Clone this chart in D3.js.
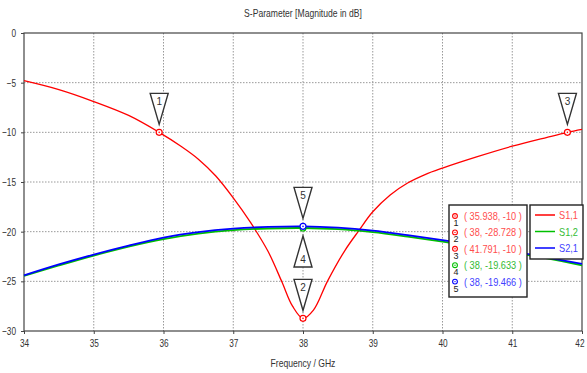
<!DOCTYPE html>
<html>
<head>
<meta charset="utf-8">
<script src="https://cdn.jsdelivr.net/npm/d3@7"></script>
<style>
  body { margin: 0; background: #fff; }
  svg text { font-family: "Liberation Sans", Arial, sans-serif; }
</style>
</head>
<body>
<svg id="chart" width="587" height="373"></svg>
<script>
// S1,1 (red) – reflection
const s11Freq = [34.0, 34.5, 35.0, 35.5, 35.938, 36.25, 36.5, 36.75, 37.0, 37.25, 37.5, 37.7, 37.85, 38.0,
                 38.15, 38.35, 38.6, 38.8, 39.0, 39.25, 39.5, 39.75, 40.0, 40.5, 41.0, 41.5, 41.791, 42.0];
const s11Val  = [-4.8, -5.7, -6.9, -8.3, -10.0, -11.4, -12.7, -14.4, -16.6, -19.1, -22.0, -25.1, -27.5, -28.728,
                 -27.9, -25.0, -21.9, -19.9, -18.0, -16.3, -15.1, -14.25, -13.6, -12.45, -11.4, -10.5, -10.0, -9.7];
// S1,2 (green) and S2,1 (blue) – transmission
const s21Freq = [34.0, 34.5, 35.0, 35.5, 36.0, 36.5, 37.0, 37.5, 38.0, 38.5, 39.0, 39.5, 40.0, 40.5, 41.0, 41.5, 42.0];
const s12Val  = [-24.45, -23.4, -22.4, -21.5, -20.75, -20.2, -19.85, -19.68, -19.633, -19.75, -20.05, -20.5, -21.0, -21.55, -22.1, -22.7, -23.4];
const s21Val  = [-24.4, -23.3, -22.3, -21.4, -20.6, -20.05, -19.7, -19.52, -19.466, -19.6, -19.9, -20.35, -20.85, -21.4, -21.95, -22.6, -23.25];

const xTicks = [34, 35, 36, 37, 38, 39, 40, 41, 42];
const yTicks = [0, -5, -10, -15, -20, -25, -30];

const seriesNames = ["S1,1", "S1,2", "S2,1"];
const seriesColors = ["#ff0000", "#00c000", "#0000ff"];
const textColors = ["#ff4d4d", "#33bb33", "#4040ff"];

// markers on the curves
const markers = [
  {id: 1, f: 35.938, v: -10, s: 0, dir: "down"},
  {id: 2, f: 38, v: -28.728, s: 0, dir: "down"},
  {id: 3, f: 41.791, v: -10, s: 0, dir: "down"},
  {id: 4, f: 38, v: -19.633, s: 1, dir: "up"},
  {id: 5, f: 38, v: -19.466, s: 2, dir: "down"}
];
const markerLabels = ["( 35.938, -10 )", "( 38, -28.728 )", "( 41.791, -10 )", "( 38, -19.633 )", "( 38, -19.466 )"];

const svg = d3.select("#chart");
const plotLeft = 24, plotRight = 582, plotTop = 33, plotBottom = 331;

const x = d3.scaleLinear().domain([34, 42]).range([plotLeft, plotRight]);
const y = d3.scaleLinear().domain([-30, 0]).range([plotBottom, plotTop]);

// the original uses a narrow UI font, so squeeze text horizontally
function squeeze(sel, k = 0.78) {
  sel.each(function() {
    const len = this.getComputedTextLength();
    d3.select(this).attr("textLength", len * k).attr("lengthAdjust", "spacingAndGlyphs");
  });
}

// title
svg.append("text")
    .attr("x", 303).attr("y", 17)
    .attr("text-anchor", "middle")
    .attr("font-size", 11)
    .attr("fill", "#333")
    .text("S-Parameter [Magnitude in dB]")
    .call(squeeze);

// grid
const grid = svg.append("g");
grid.selectAll(".vg").data(xTicks.slice(1, -1)).join("line")
    .attr("x1", d => x(d)).attr("x2", d => x(d))
    .attr("y1", plotTop).attr("y2", plotBottom)
    .attr("stroke", "#999").attr("stroke-dasharray", "1.5,1.5");
grid.selectAll(".hg").data(yTicks.slice(1, -1)).join("line")
    .attr("x1", plotLeft).attr("x2", plotRight)
    .attr("y1", d => y(d)).attr("y2", d => y(d))
    .attr("stroke", "#999").attr("stroke-dasharray", "1.5,1.5");

// axes
const xAxis = svg.append("g")
    .attr("transform", `translate(0,${plotBottom})`)
    .call(d3.axisBottom(x).tickValues(xTicks).tickFormat(d3.format("d")).tickSize(3).tickPadding(5));
const yAxis = svg.append("g")
    .attr("transform", `translate(${plotLeft},0)`)
    .call(d3.axisLeft(y).tickValues(yTicks).tickFormat(d3.format("d")).tickSize(3).tickPadding(5));
[xAxis, yAxis].forEach(a => {
  a.attr("font-family", null);
  a.select(".domain").remove();
  a.selectAll("line").attr("stroke", "#444");
  a.selectAll("text").attr("font-size", 11).attr("fill", "#333").call(squeeze, 0.75);
});
// last x label sits at the window edge: keep it inside
xAxis.selectAll(".tick text").filter(d => d === 42)
    .attr("text-anchor", "end").attr("x", 2);

// frame
svg.append("rect")
    .attr("x", plotLeft).attr("y", plotTop)
    .attr("width", plotRight - plotLeft).attr("height", plotBottom - plotTop)
    .attr("fill", "none").attr("stroke", "#444").attr("stroke-width", 1.2);

svg.append("text")
    .attr("x", 303).attr("y", 367)
    .attr("text-anchor", "middle")
    .attr("font-size", 11)
    .attr("fill", "#333")
    .text("Frequency / GHz")
    .call(squeeze);

// curves
const line = d3.line().x(d => x(d[0])).y(d => y(d[1])).curve(d3.curveCatmullRom.alpha(0.5));
const data = [
  d3.zip(s11Freq, s11Val),
  d3.zip(s21Freq, s12Val),
  d3.zip(s21Freq, s21Val)
];
svg.append("g").selectAll("path").data(data).join("path")
    .attr("d", line)
    .attr("fill", "none")
    .attr("stroke", (d, i) => seriesColors[i])
    .attr("stroke-width", (d, i) => i === 0 ? 1.3 : 1.8);

// markers
const mg = svg.append("g");
markers.forEach(m => {
  const px = x(m.f), py = y(m.v);
  const w = 9, h = 31, gap = 8;
  let pts, ty;
  if (m.dir === "down") {
    pts = [[px - w, py - gap - h], [px + w, py - gap - h], [px, py - gap]];
    ty = py - gap - h + 12;
  } else {
    pts = [[px - w, py + gap + h], [px + w, py + gap + h], [px, py + gap]];
    ty = py + gap + h - 4;
  }
  mg.append("polygon")
      .attr("points", pts.map(p => p.join(",")).join(" "))
      .attr("fill", "#fff").attr("stroke", "#333").attr("stroke-width", 1.4);
  mg.append("text")
      .attr("x", px).attr("y", ty)
      .attr("text-anchor", "middle").attr("font-size", 10).attr("fill", "#333")
      .text(m.id);
  mg.append("circle")
      .attr("cx", px).attr("cy", py).attr("r", 3)
      .attr("fill", "#fff").attr("stroke", seriesColors[m.s]).attr("stroke-width", 1.2);
  mg.append("circle")
      .attr("cx", px).attr("cy", py).attr("r", 0.8)
      .attr("fill", seriesColors[m.s]);
});

// marker value box
const vb = svg.append("g");
vb.append("rect")
    .attr("x", 449).attr("y", 205).attr("width", 78).attr("height", 92)
    .attr("fill", "#fff").attr("stroke", "#222").attr("stroke-width", 1.4);
markers.forEach((m, i) => {
  const cy = 216 + i * 16.4;
  vb.append("circle").attr("cx", 455).attr("cy", cy).attr("r", 2.4)
      .attr("fill", "none").attr("stroke", seriesColors[m.s]).attr("stroke-width", 1.1);
  vb.append("circle").attr("cx", 455).attr("cy", cy).attr("r", 0.7).attr("fill", seriesColors[m.s]);
  vb.append("text").attr("x", 456).attr("y", cy + 10)
      .attr("text-anchor", "middle").attr("font-size", 9).attr("fill", "#222")
      .text(m.id);
  vb.append("text").attr("x", 464).attr("y", cy + 4)
      .attr("font-size", 11.5).attr("fill", textColors[m.s])
      .text(markerLabels[i])
      .call(squeeze, 0.8);
});

// series legend
const lg = svg.append("g");
lg.append("rect")
    .attr("x", 530).attr("y", 205).attr("width", 53).attr("height", 54)
    .attr("fill", "#fff").attr("stroke", "#222").attr("stroke-width", 1.4);
seriesNames.forEach((n, i) => {
  const cy = 215 + i * 16.5;
  lg.append("line").attr("x1", 535).attr("x2", 555).attr("y1", cy).attr("y2", cy)
      .attr("stroke", seriesColors[i]).attr("stroke-width", 1.5);
  lg.append("text").attr("x", 578).attr("y", cy + 4)
      .attr("text-anchor", "end").attr("font-size", 11.5).attr("fill", textColors[i])
      .text(n)
      .call(squeeze, 0.8);
});
</script>
</body>
</html>
